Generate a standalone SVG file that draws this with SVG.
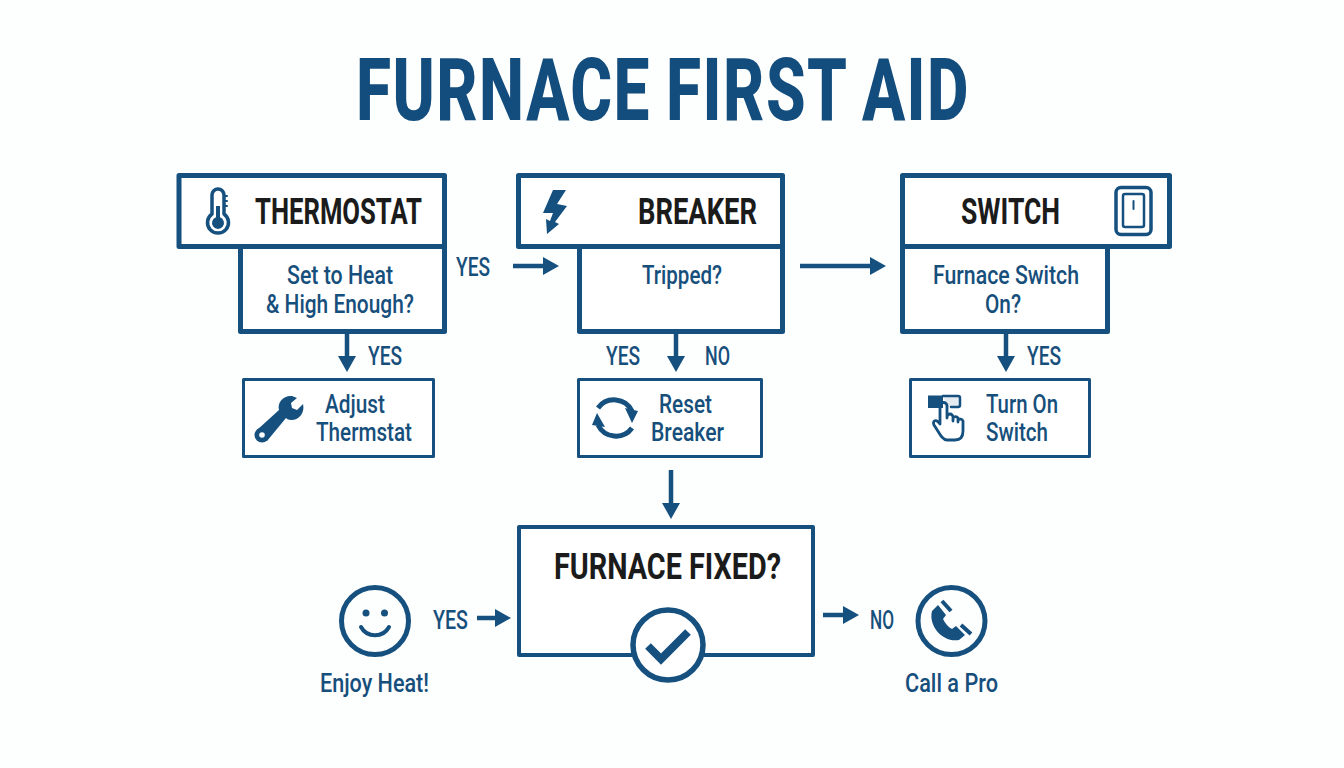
<svg xmlns="http://www.w3.org/2000/svg" width="1344" height="768" viewBox="0 0 1344 768">
<style>
text{font-family:Roboto,"Liberation Sans",sans-serif;text-anchor:start}
.t{font-size:88px;font-weight:800;fill:#134d7d;letter-spacing:2px;word-spacing:-3px}
.h{font-size:36.500px;font-weight:700;fill:#1b1b1b}
.b{font-size:26px;font-weight:500;fill:#174f7c}
.l{font-size:26px;font-weight:500;fill:#174f7c}
.box{fill:#fff;stroke:#15507f;stroke-linejoin:round}
.k{stroke-width:5}
.s{stroke-width:3}
.line{fill:none;stroke:#15507f;stroke-width:4.500}
.ic{fill:none;stroke:#15507f;stroke-width:4;stroke-linecap:round;stroke-linejoin:round}
.fl{fill:#15507f}
</style>
<defs>
<marker id="a" markerUnits="userSpaceOnUse" markerWidth="18" markerHeight="18" refX="8" refY="9" orient="auto"><path d="M0 0L16 9L0 18Z" fill="#15507f"/></marker>
</defs>
<rect width="1344" height="768" fill="#fdfefe"/>
<text class="t" x="356" y="120" textLength="614" lengthAdjust="spacingAndGlyphs">FURNACE FIRST AID</text>

<g id="connectors">
<path class="line" d="M347 334V364" marker-end="url(#a)"/>
<path class="line" d="M676 334V364" marker-end="url(#a)"/>
<path class="line" d="M1006 334V364" marker-end="url(#a)"/>
<path class="line" d="M671 470V511" marker-end="url(#a)"/>
<path class="line" d="M513 266H551" marker-end="url(#a)"/>
<path class="line" d="M800 266H878" marker-end="url(#a)"/>
<path class="line" d="M477 618H503" marker-end="url(#a)"/>
<path class="line" d="M823 615H851" marker-end="url(#a)"/>
<text class="l" x="456" y="276" textLength="34" lengthAdjust="spacingAndGlyphs">YES</text>
<text class="l" x="368" y="365" textLength="34" lengthAdjust="spacingAndGlyphs">YES</text>
<text class="l" x="606" y="365" textLength="34" lengthAdjust="spacingAndGlyphs">YES</text>
<text class="l" x="705" y="365" textLength="25" lengthAdjust="spacingAndGlyphs">NO</text>
<text class="l" x="1027" y="365" textLength="34" lengthAdjust="spacingAndGlyphs">YES</text>
<text class="l" x="433" y="629" textLength="35" lengthAdjust="spacingAndGlyphs">YES</text>
<text class="l" x="870" y="629" textLength="24" lengthAdjust="spacingAndGlyphs">NO</text>
</g>

<g id="thermostat">
<rect class="box k" x="240.500" y="246.500" width="204" height="85"/>
<rect class="box k" x="179" y="175.500" width="265.500" height="71"/>
<path class="ic" style="stroke-width:3.500" d="M212 214V195a6 6 0 0 1 12 0V214a10.500 10.500 0 1 1-12 0Z"/>
<path class="ic" style="stroke-width:2" d="M224 196h3M224 201h3M224 206h3"/>
<path class="fl" d="M216 206h4v11.300a6 6 0 1 1-4 0Z"/>
<text class="h" x="255" y="224" textLength="167" lengthAdjust="spacingAndGlyphs">THERMOSTAT</text>
<text class="b" x="287" y="284" textLength="106" lengthAdjust="spacingAndGlyphs">Set to Heat</text>
<text class="b" x="266" y="313" textLength="148" lengthAdjust="spacingAndGlyphs">&amp; High Enough?</text>
</g>

<g id="breaker">
<rect class="box k" x="579.500" y="246.500" width="203" height="85"/>
<rect class="box k" x="518.500" y="175.500" width="264" height="71"/>
<path class="fl" d="M553 190H566L557 204L567 206L555 222L559 224L547 234L546 219L550 221L553 213L543 213Z"/>
<text class="h" x="638" y="224" textLength="119" lengthAdjust="spacingAndGlyphs">BREAKER</text>
<text class="b" x="642" y="284" textLength="80" lengthAdjust="spacingAndGlyphs">Tripped?</text>
</g>

<g id="switch">
<rect class="box k" x="902.500" y="246.500" width="205" height="85"/>
<rect class="box k" x="902.500" y="175.500" width="267" height="71"/>
<rect class="ic" style="stroke-width:3.500" x="1116" y="187.500" width="35" height="47" rx="5"/>
<rect class="ic" style="stroke-width:2.500" x="1123" y="194" width="21" height="33" rx="2"/>
<path class="ic" style="stroke-width:2" d="M1133.500 201V209"/>
<text class="h" x="961" y="224" textLength="99" lengthAdjust="spacingAndGlyphs">SWITCH</text>
<text class="b" x="933" y="284" textLength="146" lengthAdjust="spacingAndGlyphs">Furnace Switch</text>
<text class="b" x="985" y="313" textLength="36" lengthAdjust="spacingAndGlyphs">On?</text>
</g>

<g id="adjust">
<rect class="box s" x="243.500" y="379.500" width="190" height="77"/>
<path class="fl" d="M292 396L297 398L291 403L292 408L297 410L303 404C305 412 300 420 291 420C289 420 287 419 286 418L267 441L257 430L279 410C277 402 284 395 292 396Z"/>
<circle cx="262" cy="435" r="7.500" class="fl"/>
<circle cx="262" cy="435" r="2.800" fill="#fff"/>
<text class="b" x="325" y="413" textLength="60" lengthAdjust="spacingAndGlyphs">Adjust</text>
<text class="b" x="316" y="441" textLength="96" lengthAdjust="spacingAndGlyphs">Thermstat</text>
</g>

<g id="reset">
<rect class="box s" x="578.500" y="379.500" width="183" height="77"/>
<path fill="none" stroke="#15507f" stroke-width="5" d="M598 408A20 20 0 0 1 632 411M632 428A20 20 0 0 1 598 425"/>
<path class="fl" d="M638 411L625 408L632 423Z M592 425L605 427L597 413Z"/>
<text class="b" x="659" y="413" textLength="53" lengthAdjust="spacingAndGlyphs">Reset</text>
<text class="b" x="651" y="441" textLength="73" lengthAdjust="spacingAndGlyphs">Breaker</text>
</g>

<g id="turn-on">
<rect class="box s" x="910.500" y="379.500" width="179" height="77"/>
<rect class="fl" x="928" y="395.500" width="15" height="12.500"/>
<path d="M943 396H960V407H948Z" fill="#e4ebf1"/>
<path class="ic" style="stroke-width:2.500" d="M943 396H958a2 2 0 0 1 2 2V405a2 2 0 0 1-2 2H951"/>
<path class="ic" style="stroke-width:2.800" d="M940 424V406a3.500 3.500 0 0 1 7 0V418M947 417a3 3 0 0 1 6 0V421M953 418a3 3 0 0 1 5 0V422M958 420a3 3 0 0 1 5 1V431C963 437 960 440 955 440H947C944 440 943 438 941 436L934 425C932 421 936 418 940 424"/>
<text class="b" x="986" y="413" textLength="72" lengthAdjust="spacingAndGlyphs">Turn On</text>
<text class="b" x="986" y="441" textLength="62" lengthAdjust="spacingAndGlyphs">Switch</text>
</g>

<g id="fixed">
<rect class="box" style="stroke-width:4" x="519" y="527" width="294" height="128"/>
<circle cx="668" cy="645" r="35" fill="#fff" stroke="#15507f" stroke-width="5.500"/>
<path fill="none" stroke="#15507f" stroke-width="8" d="M648 646L661 659L688 632"/>
<text class="h" x="554" y="579" textLength="227" lengthAdjust="spacingAndGlyphs">FURNACE FIXED?</text>
</g>

<g id="enjoy">
<circle cx="375" cy="621" r="33.500" fill="none" stroke="#15507f" stroke-width="5"/>
<circle cx="366" cy="613" r="3.500" class="fl"/>
<circle cx="384.500" cy="613" r="3.500" class="fl"/>
<path fill="none" stroke="#15507f" stroke-width="4" stroke-linecap="round" d="M361 627C367 638 383 638 389 627"/>
<text class="l" x="320" y="692" textLength="109" lengthAdjust="spacingAndGlyphs">Enjoy Heat!</text>
</g>

<g id="pro">
<circle cx="951.500" cy="621" r="33.500" fill="none" stroke="#15507f" stroke-width="5"/>
<path class="fl" d="M932 611L938 605L946 615L943 619C945 623 948 627 952 629L956 626L965 635L959 640C944 643 928 627 932 611Z"/>
<path fill="none" stroke="#15507f" stroke-width="4" d="M942 601L951 611M961 625L971 634"/>
<text class="l" x="905" y="692" textLength="93" lengthAdjust="spacingAndGlyphs">Call a Pro</text>
</g>
</svg>
